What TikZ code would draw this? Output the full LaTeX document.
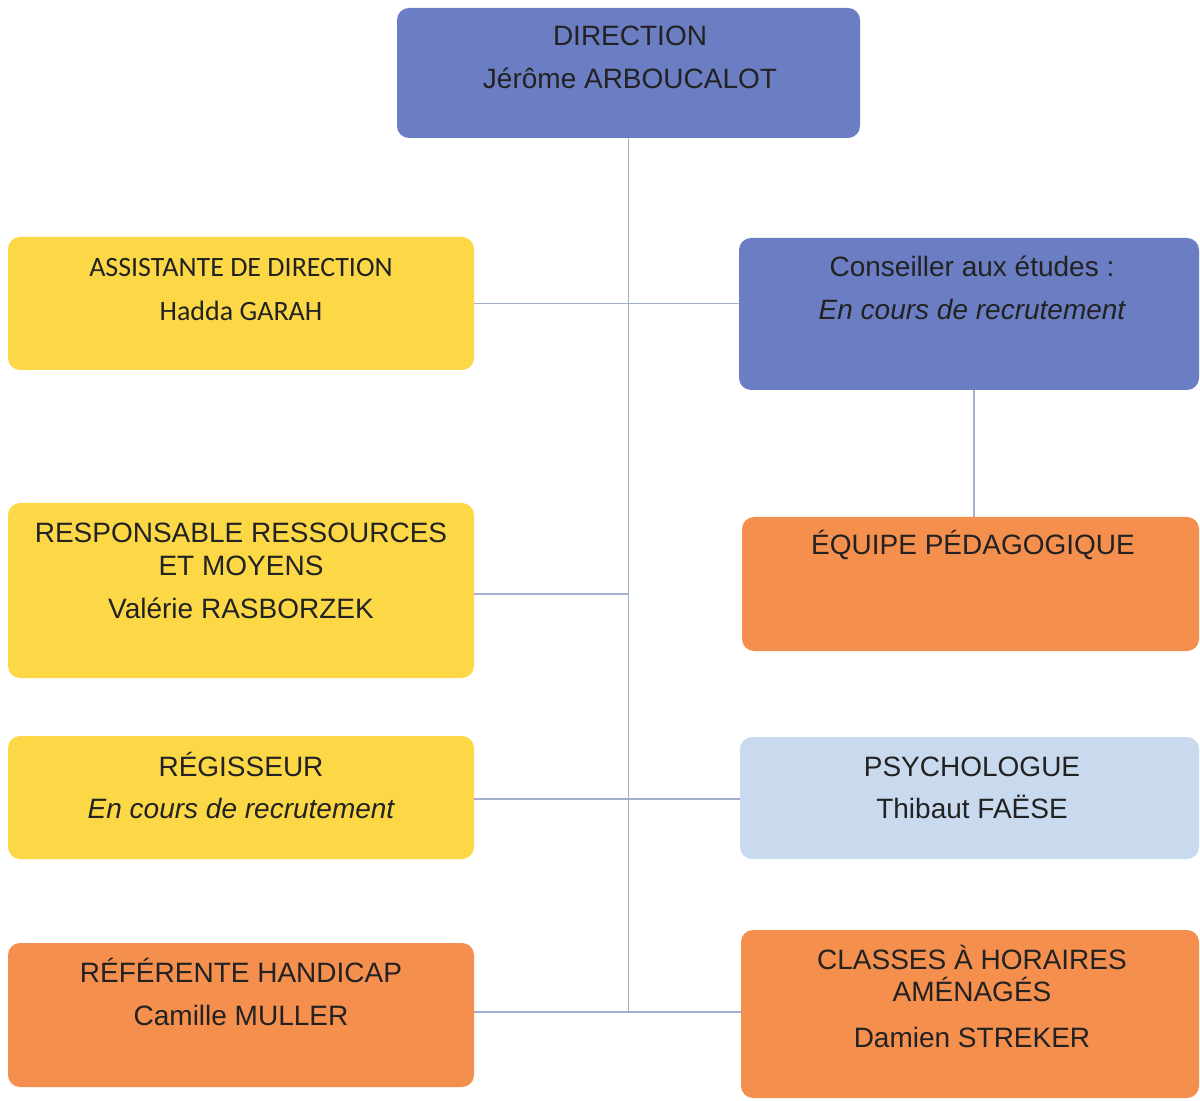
\documentclass[tikz,border=0pt]{standalone}
\usepackage{fontspec}
\setmainfont{Liberation Sans}
\newfontfamily\calib{Carlito}
\definecolor{dirblue}{HTML}{6B7EC3}
\definecolor{ylw}{HTML}{FCD846}
\definecolor{orng}{HTML}{F58F4E}
\definecolor{ltblue}{HTML}{C9DAEE}
\definecolor{linec}{HTML}{A3AFCF}
\definecolor{txt}{HTML}{222222}
\begin{document}
\begin{tikzpicture}[x=0.5pt,y=-0.5pt,
  boxst/.style={rectangle, rounded corners=6pt, draw=none, inner sep=0pt},
  lbl/.style={anchor=base, inner sep=0pt, text=txt, font=\fontsize{14}{16}\selectfont},
  conn/.style={draw=linec, line width=0.6pt}]
\useasboundingbox (0,0) rectangle (1200,1101);
\fill[white] (0,0) rectangle (1200,1101);

% boxes
\node[boxst, fill=dirblue, minimum width=231.5pt, minimum height=65pt] (dir) at (628.5,73) {};
\node[boxst, fill=ylw, minimum width=233pt, minimum height=66.5pt] (assist) at (241,303.5) {};
\node[boxst, fill=dirblue, minimum width=230pt, minimum height=76pt] (conseil) at (969,314) {};
\node[boxst, fill=ylw, minimum width=233pt, minimum height=87.5pt] (resp) at (241,590.5) {};
\node[boxst, fill=orng, minimum width=228.5pt, minimum height=67pt] (equipe) at (970.5,584) {};
\node[boxst, fill=ylw, minimum width=233pt, minimum height=61.5pt] (regis) at (241,797.5) {};
\node[boxst, fill=ltblue, minimum width=229.5pt, minimum height=61pt] (psy) at (969.5,798) {};
\node[boxst, fill=orng, minimum width=233pt, minimum height=72pt] (ref) at (241,1015) {};
\node[boxst, fill=orng, minimum width=229pt, minimum height=84pt] (classes) at (970,1014) {};

% connectors
\draw[conn] (dir.south) -- ([yshift=1.5pt]dir.south |- ref.east);
\draw[conn] (assist.east) -- (assist.east -| conseil.west);
\draw[conn] ([yshift=-1.75pt]resp.east) -- ([yshift=-1.75pt]resp.east -| dir.south);
\draw[conn] ([yshift=-0.75pt]regis.east) -- ([yshift=-0.75pt]regis.east -| psy.west);
\draw[conn] ([yshift=1.5pt]ref.east) -- ([yshift=1.5pt]ref.east -| classes.west);
\draw[conn] ([xshift=2.5pt]conseil.south) -- ([xshift=2.5pt]conseil.south |- equipe.north);

% texts
\node[lbl] (t1) at (630,46) {DIRECTION};
\node[lbl] (t2) at (630,89) {Jérôme ARBOUCALOT};
\node[lbl, font=\calib\fontsize{14}{16}\selectfont] (t3) at (241,277) {ASSISTANTE DE DIRECTION};
\node[lbl, font=\calib\fontsize{14}{16}\selectfont] (t4) at (241,321) {Hadda GARAH};
\node[lbl] (t5) at (972,277) {Conseiller aux études :};
\node[lbl, font=\fontsize{14}{16}\selectfont\itshape] (t6) at (972,320) {En cours de recrutement};
\node[lbl] (t7) at (241,543) {RESPONSABLE RESSOURCES};
\node[lbl] (t8) at (241,575) {ET MOYENS};
\node[lbl] (t9) at (241,618) {Valérie RASBORZEK};
\node[lbl] (t10) at (973,555) {ÉQUIPE PÉDAGOGIQUE};
\node[lbl] (t11) at (241,776) {RÉGISSEUR};
\node[lbl, font=\fontsize{14}{16}\selectfont\itshape] (t12) at (241,818) {En cours de recrutement};
\node[lbl] (t13) at (972,776) {PSYCHOLOGUE};
\node[lbl] (t14) at (972,818) {Thibaut FAËSE};
\node[lbl] (t15) at (241,982) {RÉFÉRENTE HANDICAP};
\node[lbl] (t16) at (241,1025) {Camille MULLER};
\node[lbl] (t17) at (972,969) {CLASSES À HORAIRES};
\node[lbl] (t18) at (972,1001) {AMÉNAGÉS};
\node[lbl] (t19) at (972,1047) {Damien STREKER};
\end{tikzpicture}
\end{document}
